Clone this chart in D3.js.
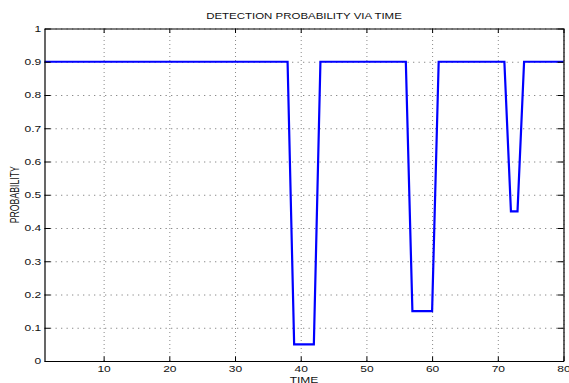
<!DOCTYPE html>
<html>
<head>
<meta charset="utf-8">
<script src="https://cdn.jsdelivr.net/npm/d3@7"></script>
<style>
  html, body { margin: 0; padding: 0; background: #fff; }
  svg { display: block; font-family: "Liberation Sans", Arial, Helvetica, sans-serif; }
</style>
</head>
<body>
<svg id="chart" width="569" height="383"></svg>
<script>
// Detection probability, one value per time step 1..80
const time = d3.range(1, 81);
const probability = [
  0.9, 0.9, 0.9, 0.9, 0.9, 0.9, 0.9, 0.9, 0.9, 0.9,
  0.9, 0.9, 0.9, 0.9, 0.9, 0.9, 0.9, 0.9, 0.9, 0.9,
  0.9, 0.9, 0.9, 0.9, 0.9, 0.9, 0.9, 0.9, 0.9, 0.9,
  0.9, 0.9, 0.9, 0.9, 0.9, 0.9, 0.9, 0.9, 0.05, 0.05,
  0.05, 0.05, 0.9, 0.9, 0.9, 0.9, 0.9, 0.9, 0.9, 0.9,
  0.9, 0.9, 0.9, 0.9, 0.9, 0.9, 0.15, 0.15, 0.15, 0.15,
  0.9, 0.9, 0.9, 0.9, 0.9, 0.9, 0.9, 0.9, 0.9, 0.9,
  0.9, 0.45, 0.45, 0.9, 0.9, 0.9, 0.9, 0.9, 0.9, 0.9
];
const xTicks = [10, 20, 30, 40, 50, 60, 70, 80];
const yTicks = [0, 0.1, 0.2, 0.3, 0.4, 0.5, 0.6, 0.7, 0.8, 0.9, 1];
const titleText = "DETECTION PROBABILITY VIA TIME";
const xLabel = "TIME";
const yLabel = "PROBABILITY";

const plotLeft = 44.5, plotRight = 563.5, plotTop = 28.5, plotBottom = 361;
const stretch = 1.38;   // text is drawn wide
const fontSize = 8.7;

const svg = d3.select("#chart");
const x = d3.scaleLinear().domain([1, 80]).range([plotLeft, plotRight]);
const y = d3.scaleLinear().domain([0, 1]).range([plotBottom, plotTop]);

// dotted grid
svg.append("g")
  .attr("transform", `translate(0,${plotBottom})`)
  .call(d3.axisBottom(x).tickValues(xTicks).tickSize(-(plotBottom - plotTop)).tickFormat(""))
  .call(g => g.select(".domain").remove())
  .call(g => g.selectAll("line").attr("stroke", "#8a8a8a").attr("stroke-dasharray", "1,3"));
svg.append("g")
  .attr("transform", `translate(${plotLeft},0)`)
  .call(d3.axisLeft(y).tickValues(yTicks).tickSize(-(plotRight - plotLeft)).tickFormat(""))
  .call(g => g.select(".domain").remove())
  .call(g => g.selectAll("line").attr("stroke", "#8a8a8a").attr("stroke-dasharray", "1.3,4.2"));

// data line
const line = d3.line().x((d, i) => x(time[i])).y(d => y(d));
svg.append("path")
  .datum(probability)
  .attr("fill", "none")
  .attr("stroke", "#0000ff")
  .attr("stroke-width", 2.2)
  .attr("stroke-linejoin", "miter")
  .attr("d", line);

// box with inward ticks
const styleAxis = g => {
  g.select(".domain").attr("stroke", "#000").attr("stroke-width", 1.2);
  g.selectAll(".tick line").attr("stroke", "#000").attr("stroke-width", 1);
};
const xb = svg.append("g")
  .attr("transform", `translate(0,${plotBottom})`)
  .call(d3.axisBottom(x).tickValues(xTicks).tickSizeInner(-4.5).tickSizeOuter(0).tickFormat(d3.format("d")))
  .call(styleAxis);
xb.selectAll(".tick text")
  .attr("y", 5).attr("dy", "0.71em")
  .attr("font-size", fontSize).attr("fill", "#111")
  .attr("transform", `scale(${stretch},1)`);

const yb = svg.append("g")
  .attr("transform", `translate(${plotLeft},0)`)
  .call(d3.axisLeft(y).tickValues(yTicks).tickSizeInner(-6).tickSizeOuter(0).tickFormat(d => String(+d.toFixed(1))))
  .call(styleAxis);
yb.selectAll(".tick text")
  .attr("x", -3.3 / stretch).attr("dy", "0.34em")
  .attr("font-size", fontSize).attr("fill", "#111")
  .attr("transform", `scale(${stretch},1)`);

svg.append("g")
  .attr("transform", `translate(0,${plotTop})`)
  .call(d3.axisTop(x).tickValues(xTicks).tickSizeInner(-4.5).tickSizeOuter(0).tickFormat(""))
  .call(styleAxis);
svg.append("g")
  .attr("transform", `translate(${plotRight},0)`)
  .call(d3.axisRight(y).tickValues(yTicks).tickSizeInner(-6).tickSizeOuter(0).tickFormat(""))
  .call(styleAxis);

// title and axis labels
svg.append("text")
  .attr("transform", `translate(${(plotLeft + plotRight) / 2},19) scale(${stretch},1)`)
  .attr("text-anchor", "middle")
  .attr("font-size", 8.3).attr("fill", "#111")
  .text(titleText);
svg.append("text")
  .attr("transform", `translate(${(plotLeft + plotRight) / 2},382.5) scale(${stretch},1)`)
  .attr("text-anchor", "middle")
  .attr("font-size", fontSize).attr("fill", "#111")
  .text(xLabel);
svg.append("text")
  .attr("transform", `translate(19,${(plotTop + plotBottom) / 2}) scale(${stretch},1) rotate(-90)`)
  .attr("text-anchor", "middle")
  .attr("font-size", fontSize).attr("fill", "#111")
  .text(yLabel);
</script>
</body>
</html>
